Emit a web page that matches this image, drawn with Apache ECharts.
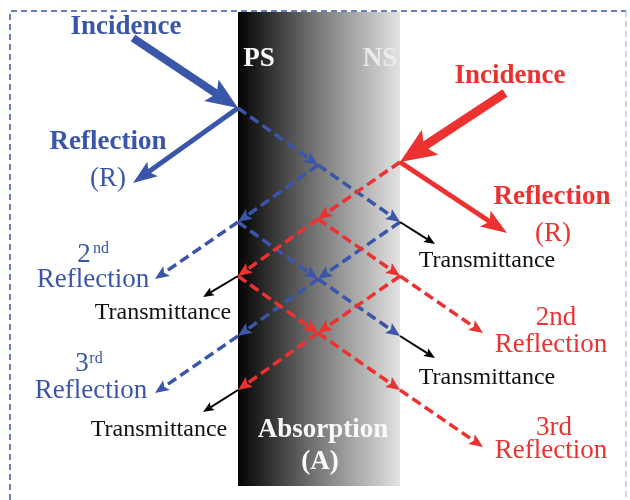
<!DOCTYPE html>
<html>
<head>
<meta charset="utf-8">
<script src="https://cdn.jsdelivr.net/npm/echarts@6/dist/echarts.min.js"></script>
<style>
  html, body { margin: 0; padding: 0; background: #fff; }
  #chart { width: 630px; height: 500px; }
</style>
</head>
<body>
<div id="chart"></div>
<script>
// diagram coordinates (picture units, y grows downward)
const frameMain = [[10, 500], [10, 11], [626, 11]]
const frameRight = [[626, 11], [626, 500]]
const slab = [[238, 12, 400, 486]]

const blueIncident = [[133, 38, 238, 108]]
const blueReflected = [[238, 108, 133, 183]]
const redIncident = [[505, 93, 400, 162]]
const redReflected = [[400, 162, 507, 233]]

const blueRays = [
  [238, 108, 318, 165], [318, 165, 400, 222], [318, 165, 238, 222],
  [238, 222, 155, 279], [238, 222, 318, 279], [400, 222, 318, 279],
  [318, 279, 400, 336], [318, 279, 238, 336], [238, 336, 155, 393]
]
const redRays = [
  [400, 162, 318, 219], [318, 219, 238, 276], [318, 219, 400, 276],
  [400, 276, 483, 333], [400, 276, 318, 333], [238, 276, 318, 333],
  [318, 333, 238, 390], [318, 333, 400, 390], [400, 390, 483, 447]
]
const transmitted = [
  [400, 222, 435, 244], [400, 336, 435, 358],
  [238, 276, 203, 297], [238, 390, 203, 412]
]

// [x, y, text, kind]
const labels = [
  [126, 27, 'Incidence', 'blueBold'],
  [108, 142, 'Reflection', 'blueBold'],
  [108, 179, '(R)', 'blue'],
  [84, 255, '2', 'blue'],
  [101, 249, 'nd', 'blueSup'],
  [93, 280, 'Reflection', 'blue'],
  [82, 364, '3', 'blue'],
  [96, 359, 'rd', 'blueSup'],
  [91, 391, 'Reflection', 'blue'],
  [163, 313, 'Transmittance', 'black'],
  [159, 430, 'Transmittance', 'black'],
  [487, 261, 'Transmittance', 'black'],
  [487, 378, 'Transmittance', 'black'],
  [510, 76, 'Incidence', 'redBold'],
  [552, 197, 'Reflection', 'redBold'],
  [553, 234, '(R)', 'red'],
  [556, 318, '2nd', 'red'],
  [551, 345, 'Reflection', 'red'],
  [554, 428, '3rd', 'red'],
  [551, 451, 'Reflection', 'red'],
  [259, 59, 'PS', 'whiteBold'],
  [380, 59, 'NS', 'nsBold'],
  [323, 430, 'Absorption', 'whiteBold'],
  [320, 462, '(A)', 'whiteBold']
]

const BLUE = '#3a56a8'
const RED = '#ec3131'
const SERIF = '"Liberation Serif", "Times New Roman", serif'

const textStyles = {
  blueBold: { fill: BLUE, size: 27, weight: 'bold' },
  blue: { fill: BLUE, size: 27 },
  blueSup: { fill: BLUE, size: 16 },
  redBold: { fill: RED, size: 27, weight: 'bold' },
  red: { fill: RED, size: 27 },
  black: { fill: '#111', size: 24 },
  whiteBold: { fill: '#fafafa', size: 27, weight: 'bold' },
  nsBold: { fill: '#ececec', size: 27, weight: 'bold' }
}

function arrowRender(opt) {
  return function(params, api) {
    const a = api.coord([api.value(0), api.value(1)])
    const b = api.coord([api.value(2), api.value(3)])
    const dx = b[0] - a[0]
    const dy = b[1] - a[1]
    const len = Math.hypot(dx, dy)
    const ux = dx / len
    const uy = dy / len
    const px = -uy
    const py = ux
    const L = opt.head[0]
    const W = opt.head[1] / 2
    const bx = b[0] - ux * L
    const by = b[1] - uy * L
    const nx = b[0] - ux * L * 0.8
    const ny = b[1] - uy * L * 0.8
    return {
      type: 'group',
      children: [{
        type: 'line',
        shape: { x1: a[0], y1: a[1], x2: nx, y2: ny },
        style: { stroke: opt.color, lineWidth: opt.width, lineDash: opt.dash || null, fill: null }
      }, {
        type: 'polygon',
        shape: { points: [[b[0], b[1]], [bx + px * W, by + py * W], [nx, ny], [bx - px * W, by - py * W]] },
        style: { fill: opt.color }
      }]
    }
  }
}

function polyRender(points, color) {
  return function(params, api) {
    return {
      type: 'polyline',
      shape: { points: points.map(p => api.coord(p)) },
      style: { stroke: color, lineWidth: 1.5, lineDash: [6, 4], fill: null }
    }
  }
}

function arrowSeries(data, opt) {
  return { type: 'custom', data: data, renderItem: arrowRender(opt), silent: true }
}

const chart = echarts.init(document.getElementById('chart'))
chart.setOption({
  animation: false,
  grid: { left: 0, right: 0, top: 0, bottom: 0 },
  xAxis: { type: 'value', min: 0, max: 630, show: false },
  yAxis: { type: 'value', min: 0, max: 500, inverse: true, show: false },
  series: [
    { type: 'custom', data: [0], renderItem: polyRender(frameMain, BLUE), silent: true },
    { type: 'custom', data: [0], renderItem: polyRender(frameRight, '#b9c8ea'), silent: true },
    {
      type: 'custom',
      data: slab,
      silent: true,
      renderItem(params, api) {
        const p1 = api.coord([api.value(0), api.value(1)])
        const p2 = api.coord([api.value(2), api.value(3)])
        return {
          type: 'rect',
          shape: { x: p1[0], y: p1[1], width: p2[0] - p1[0], height: p2[1] - p1[1] },
          style: {
            fill: new echarts.graphic.LinearGradient(0, 0, 1, 0, [
              { offset: 0, color: '#030303' },
              { offset: 0.5, color: '#7a7a7a' },
              { offset: 1, color: '#e2e2e2' }
            ])
          }
        }
      }
    },
    arrowSeries(blueRays, { color: BLUE, width: 3.5, dash: [10, 5], head: [14, 12] }),
    arrowSeries(redRays, { color: RED, width: 3.5, dash: [10, 5], head: [14, 12] }),
    arrowSeries(transmitted, { color: '#000', width: 2, head: [11, 9] }),
    arrowSeries(blueIncident, { color: BLUE, width: 8, head: [32, 26] }),
    arrowSeries(blueReflected, { color: BLUE, width: 5, head: [24, 18] }),
    arrowSeries(redIncident, { color: RED, width: 9, head: [36, 30] }),
    arrowSeries(redReflected, { color: RED, width: 5, head: [26, 19] }),
    {
      type: 'custom',
      data: labels.map(l => [l[0], l[1]]),
      silent: true,
      renderItem(params, api) {
        const l = labels[params.dataIndex]
        const p = api.coord([api.value(0), api.value(1)])
        const s = textStyles[l[3]]
        return {
          type: 'text',
          x: p[0],
          y: p[1],
          style: {
            text: l[2],
            fill: s.fill,
            fontSize: s.size,
            fontWeight: s.weight || 'normal',
            fontFamily: SERIF,
            align: 'center',
            verticalAlign: 'middle'
          }
        }
      }
    }
  ]
})
</script>
</body>
</html>
